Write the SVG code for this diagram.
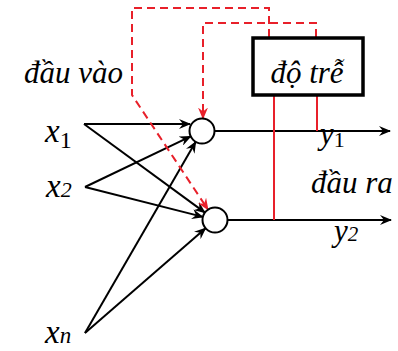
<svg xmlns="http://www.w3.org/2000/svg" width="398" height="351" viewBox="0 0 398 351">
<defs>
<marker id="ab" viewBox="0 0 12 10" refX="11" refY="5" markerWidth="12" markerHeight="10" markerUnits="userSpaceOnUse" orient="auto">
<path d="M0,0 L12,5 L0,10 L4,5 Z" fill="#000"/>
</marker>
<marker id="ar" viewBox="0 0 12 10" refX="11" refY="5" markerWidth="12" markerHeight="10" markerUnits="userSpaceOnUse" orient="auto">
<path d="M0,0 L12,5 L0,10 L4,5 Z" fill="#e8202a"/>
</marker>
</defs>
<style>
.t{font-family:"Liberation Serif","Times New Roman",serif;font-style:italic;font-size:31px;fill:#000}
.x{font-size:33px}
.up{font-style:normal}
.blk{stroke:#000;stroke-width:2;fill:none}
.red{stroke:#e8202a;stroke-width:2;fill:none}
.dash{stroke-dasharray:8 5}
.node{fill:#fff;stroke:#000;stroke-width:2}
</style>
<rect width="398" height="351" fill="#fff"/>
<g id="connectors">
<path class="blk" d="M84,124 H190" marker-end="url(#ab)"/>
<path class="blk" d="M84,124 L205,212.6" marker-end="url(#ab)"/>
<path class="blk" d="M85,187 L190.7,136.4" marker-end="url(#ab)"/>
<path class="blk" d="M85,187 L202.9,216.9" marker-end="url(#ab)"/>
<path class="blk" d="M85,333 L195.7,141.8" marker-end="url(#ab)"/>
<path class="blk" d="M85,333 L205.6,228.2" marker-end="url(#ab)"/>
<path class="blk" d="M214.5,131 H390" marker-end="url(#ab)"/>
<path class="blk" d="M227.5,220 H391" marker-end="url(#ab)"/>
<path class="red dash" d="M269,37 V8 H132 V95 L208,209.6" marker-end="url(#ar)"/>
<path class="red dash" d="M316,37 V23 H203 V118.5" marker-end="url(#ar)"/>
<path class="red" d="M274,95 V220"/>
<path class="red" d="M317,95 V131"/>
</g>
<g id="n1"><circle class="node" cx="202" cy="131" r="12.5"/></g>
<g id="n2"><circle class="node" cx="215" cy="220" r="12.5"/></g>
<g id="delay">
<rect x="253" y="38" width="110" height="57" fill="#fff" stroke="#000" stroke-width="3.5"/>
<text class="t" x="307" y="83" text-anchor="middle">độ trễ</text>
</g>
<g id="labels">
<text class="t" x="24" y="83">đầu vào</text>
<text class="t" x="311" y="193">đầu ra</text>
<text class="t x" x="45" y="142">x<tspan class="up" font-size="24" dy="6">1</tspan></text>
<text class="t x" x="46" y="197">x<tspan font-size="22">2</tspan></text>
<text class="t x" x="45" y="343">x<tspan font-size="23">n</tspan></text>
<text class="t" x="320" y="144">y<tspan class="up" font-size="22" dy="3">1</tspan></text>
<text class="t" x="334" y="241">y<tspan font-size="21">2</tspan></text>
</g>
</svg>
